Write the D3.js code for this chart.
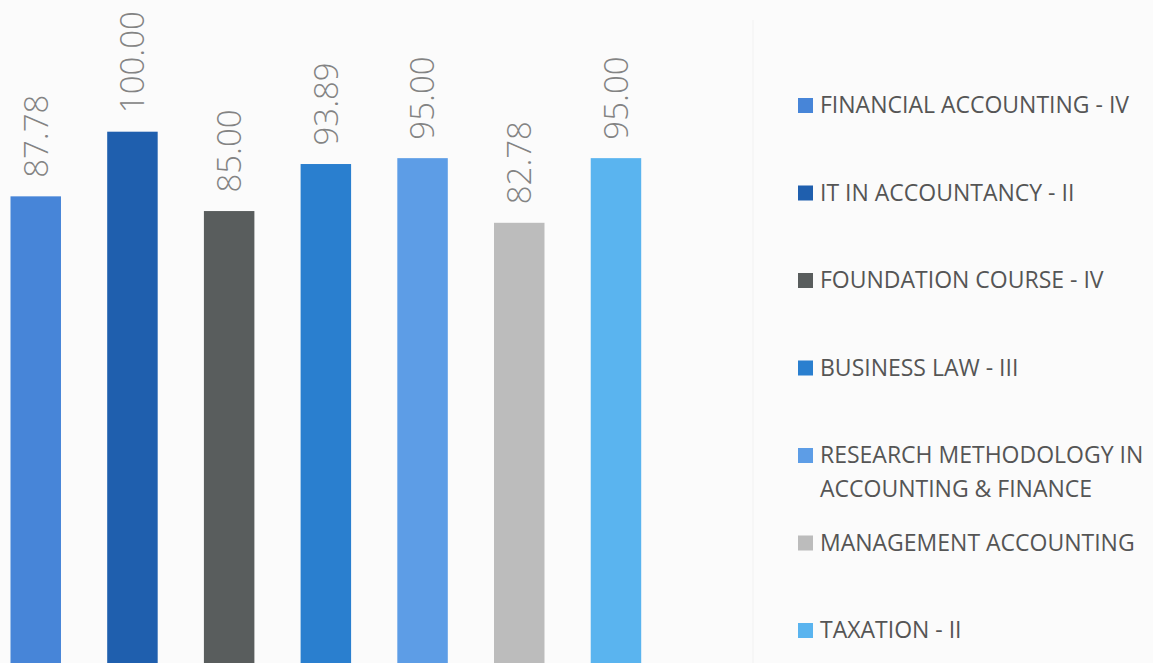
<!DOCTYPE html>
<html>
<head>
<meta charset="utf-8">
<script src="https://cdn.jsdelivr.net/npm/d3@7"></script>
<style>
  html, body { margin: 0; padding: 0; background: #fbfbfb; }
  svg { display: block; }
</style>
</head>
<body>
<div id="chart"></div>
<script>
// subjects and pass percentages
const subjects = [
    'FINANCIAL ACCOUNTING - IV',
    'IT IN ACCOUNTANCY - II',
    'FOUNDATION COURSE - IV',
    'BUSINESS LAW - III',
    'RESEARCH METHODOLOGY IN ACCOUNTING & FINANCE',
    'MANAGEMENT ACCOUNTING',
    'TAXATION - II'
];
const results = [87.78, 100.00, 85.00, 93.89, 95.00, 82.78, 95.00];
// legend text, wrapped as in the original
const legendLines = [
    ['FINANCIAL ACCOUNTING - IV'],
    ['IT IN ACCOUNTANCY - II'],
    ['FOUNDATION COURSE - IV'],
    ['BUSINESS LAW - III'],
    ['RESEARCH METHODOLOGY IN', 'ACCOUNTING & FINANCE'],
    ['MANAGEMENT ACCOUNTING'],
    ['TAXATION - II']
];
const colors = ['#4785d8', '#1f5fae', '#595d5d', '#2a7fcf', '#5d9de6', '#bcbcbc', '#5ab4ef'];

const width = 1153,
    height = 663;

const data = subjects.map((s, i) => ({ subject: s, value: results[i] }));

const svg = d3.select('#chart')
    .append('svg')
    .attr('width', width)
    .attr('height', height)
    .style('background', '#fbfbfb');

const x = d3.scaleBand()
    .domain(subjects)
    .range([10.5, 641.2])
    .paddingInner(0.478)
    .paddingOuter(0);

const y = d3.scaleLinear()
    .domain([0, 100])
    .range([660.7, 131.7]);

const z = d3.scaleOrdinal()
    .domain(subjects)
    .range(colors);

// faint divider between plot and legend
svg.append('line')
    .attr('x1', 753).attr('x2', 753)
    .attr('y1', 20).attr('y2', height)
    .attr('stroke', '#f1f1f1')
    .attr('stroke-width', 1);

// bars run past the bottom edge (the picture is cropped there)
svg.append('g')
    .selectAll('rect')
    .data(data)
    .join('rect')
    .attr('x', d => x(d.subject))
    .attr('y', d => y(d.value))
    .attr('width', x.bandwidth())
    .attr('height', d => height - y(d.value))
    .attr('fill', d => z(d.subject));

// value labels, rotated
svg.append('g')
    .selectAll('text')
    .data(data)
    .join('text')
    .attr('transform', d => `translate(${x(d.subject) + x.bandwidth() / 2},${y(d.value) - 18.5}) rotate(-90)`)
    .attr('dy', '0.36em')
    .attr('text-anchor', 'start')
    .style('font-family', '"Open Sans", sans-serif')
    .style('font-weight', 300)
    .style('font-size', '33px')
    .attr('fill', '#838383')
    .text(d => d3.format('.2f')(d.value));

// legend
const legend = svg.append('g')
    .selectAll('g')
    .data(data)
    .join('g')
    .attr('transform', (d, i) => `translate(798,${113 + i * 87.5})`);

legend.append('rect')
    .attr('x', 0)
    .attr('y', -15)
    .attr('width', 15)
    .attr('height', 15)
    .attr('fill', d => z(d.subject));

legend.append('text')
    .attr('x', 22)
    .style('font-family', '"Open Sans", sans-serif')
    .style('font-size', '23px')
    .attr('fill', '#555555')
    .selectAll('tspan')
    .data((d, i) => legendLines[i])
    .join('tspan')
    .attr('x', 22)
    .attr('y', (d, j) => j * 33.5)
    .text(d => d);
</script>
</body>
</html>
